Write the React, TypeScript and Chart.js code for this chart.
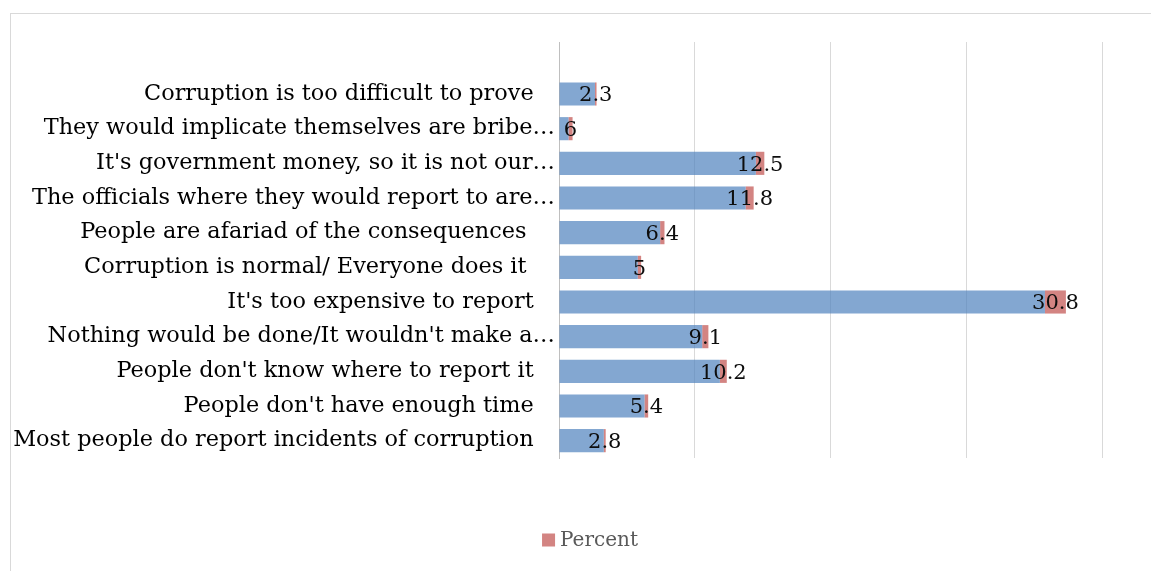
import React, { useEffect, useRef } from "react";
import { Chart, registerables } from "chart.js";

Chart.register(...registerables);

// Top row is an empty category in the original chart
const categories: string[] = [
  "",
  "Corruption is too difficult to prove",
  "They would implicate themselves are bribe…",
  "It's government money, so it is not our…",
  "The officials where they would report to are…",
  "People are afariad of the consequences ",
  "Corruption is normal/ Everyone does it ",
  "It's too expensive to report",
  "Nothing would be done/It wouldn't make a…",
  "People don't know where to report it",
  "People don't have enough time",
  "Most people do report incidents of corruption",
];

// Unlabelled blue series (counts)
const frequency: (number | null)[] = [null, 53, 14, 290, 275, 149, 116, 716, 211, 237, 126, 66];
// "Percent" series (red)
const percent: (number | null)[] = [null, 2.3, 6, 12.5, 11.8, 6.4, 5, 30.8, 9.1, 10.2, 5.4, 2.8];

const xMin = 0;
const xMax = 800;
const xStep = 200;

const FONT = "'DejaVu Serif', 'Liberation Serif', serif";
const BLUE = "rgba(79,129,189,0.7)";
const RED = "rgba(192,80,77,0.7)";

export default function App() {
  const ref = useRef<HTMLCanvasElement | null>(null);

  useEffect(() => {
    const canvas = ref.current;
    if (!canvas) return;

    const framePlugin = {
      id: "frame",
      beforeDraw(chart: any) {
        const ctx = chart.ctx;
        ctx.save();
        ctx.fillStyle = "#ffffff";
        ctx.fillRect(0, 0, chart.width, chart.height);
        ctx.strokeStyle = "#d9d9d9";
        ctx.lineWidth = 1;
        ctx.strokeRect(10.5, 13.5, 1400, 1400);
        ctx.restore();
      },
    };

    const labelPlugin = {
      id: "valueLabels",
      afterDatasetsDraw(chart: any) {
        const ctx = chart.ctx;
        const meta = chart.getDatasetMeta(1);
        ctx.save();
        ctx.font = `21px ${FONT}`;
        ctx.fillStyle = "#0d0d0d";
        ctx.textAlign = "center";
        ctx.textBaseline = "middle";
        meta.data.forEach((el: any, i: number) => {
          const v = percent[i];
          if (v == null) return;
          const p = el.getProps(["x", "y", "base"], true);
          ctx.fillText(String(v), (p.x + p.base) / 2, p.y + 2);
        });
        ctx.restore();
      },
    };

    const legendPlugin = {
      id: "customLegend",
      afterDraw(chart: any) {
        const ctx = chart.ctx;
        const ds = chart.data.datasets[1];
        ctx.save();
        ctx.font = `20px ${FONT}`;
        const text = ds.label as string;
        const tw = ctx.measureText(text).width;
        const box = 13;
        const gap = 5;
        const total = box + gap + tw;
        const cx = 590;
        const cy = 540;
        const x0 = cx - total / 2;
        ctx.fillStyle = RED;
        ctx.fillRect(x0, cy - box / 2, box, box);
        ctx.fillStyle = "#595959";
        ctx.textAlign = "left";
        ctx.textBaseline = "middle";
        ctx.fillText(text, x0 + box + gap, cy + 1);
        ctx.restore();
      },
    };

    const chart = new Chart(canvas, {
      type: "bar",
      data: {
        labels: categories,
        datasets: [
          {
            label: "Count",
            data: frequency,
            backgroundColor: BLUE,
            borderWidth: 0,
            categoryPercentage: 1,
            barPercentage: 0.667,
          },
          {
            label: "Percent",
            data: percent,
            backgroundColor: RED,
            borderWidth: 0,
            categoryPercentage: 1,
            barPercentage: 0.667,
          },
        ],
      },
      options: {
        responsive: false,
        animation: false,
        indexAxis: "y",
        layout: { padding: { top: 42, right: 49, bottom: 113, left: 0 } },
        scales: {
          x: {
            stacked: true,
            min: xMin,
            max: xMax,
            ticks: { display: false, stepSize: xStep },
            grid: { color: "#d9d9d9", lineWidth: 1, drawTicks: false },
            border: { display: false },
            afterFit: (s: any) => {
              s.height = 0;
            },
          },
          y: {
            stacked: true,
            grid: { display: false, drawTicks: false },
            border: { display: true, color: "#bfbfbf", width: 1 },
            ticks: {
              autoSkip: false,
              padding: 4,
              color: "#000000",
              font: { family: FONT, size: 22.4 },
              callback: (_v: any, i: number) => {
                const l = categories[i];
                if (!l) return "";
                return l.endsWith("…") ? l : l + "   ";
              },
            },
            afterFit: (s: any) => {
              s.width = 559;
            },
          },
        },
        plugins: {
          legend: { display: false },
          tooltip: { enabled: false },
        },
      },
      plugins: [framePlugin, labelPlugin, legendPlugin],
    } as any);

    return () => chart.destroy();
  }, []);

  return (
    <canvas
      ref={ref}
      width={1151}
      height={571}
      style={{ position: "fixed", left: 0, top: 0, width: 1151, height: 571 }}
    />
  );
}
